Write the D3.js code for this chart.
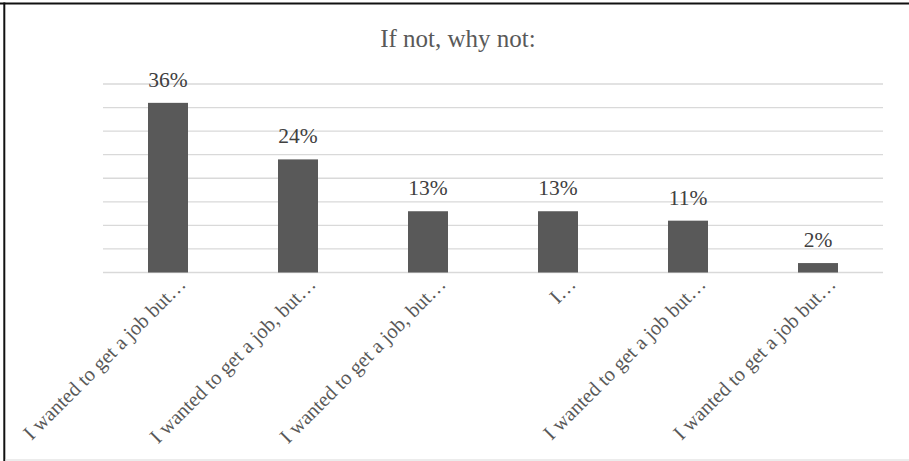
<!DOCTYPE html>
<html>
<head>
<meta charset="utf-8">
<script src="https://cdn.jsdelivr.net/npm/d3@7"></script>
<style>
  html, body { margin: 0; padding: 0; background: #fff; }
  svg { display: block; }
</style>
</head>
<body>
<svg id="chart" width="909" height="461"></svg>
<script>
const title = "If not, why not:";
const categories = [
  "I wanted to get a job but…",
  "I wanted to get a job, but…",
  "I wanted to get a job, but…",
  "I…",
  "I wanted to get a job but…",
  "I wanted to get a job but…"
];
const values = [36, 24, 13, 13, 11, 2];
const valueLabels = ["36%", "24%", "13%", "13%", "11%", "2%"];
const gridTicks = [0, 5, 10, 15, 20, 25, 30, 35, 40];

(function () {
const svg = d3.select("#chart");
const W = 909, H = 461;
const plotLeft = 103, plotRight = 883, plotTop = 84, plotBottom = 272.5;

svg.append("rect").attr("width", W).attr("height", H).attr("fill", "#fff");

// frame
svg.append("line").attr("x1", 0).attr("x2", W).attr("y1", 3.5).attr("y2", 3.5)
  .attr("stroke", "#111").attr("stroke-width", 2);
svg.append("line").attr("x1", 4.3).attr("x2", 4.3).attr("y1", 2.5).attr("y2", H)
  .attr("stroke", "#111").attr("stroke-width", 2);
svg.append("line").attr("x1", 5).attr("x2", W).attr("y1", 460).attr("y2", 460)
  .attr("stroke", "#d9d9d9").attr("stroke-width", 1);

const idx = categories.map((d, i) => i);
const x = d3.scaleBand().domain(idx).range([plotLeft, plotRight])
  .paddingInner(90 / 130).paddingOuter(45 / 130);
const y = d3.scaleLinear().domain([0, 40]).range([plotBottom, plotTop]);

// gridlines
svg.append("g").selectAll("line").data(gridTicks).join("line")
  .attr("x1", plotLeft).attr("x2", plotRight)
  .attr("y1", d => y(d)).attr("y2", d => y(d))
  .attr("stroke", "#d9d9d9").attr("stroke-width", 1.3);

// bars
svg.append("g").selectAll("rect").data(values).join("rect")
  .attr("x", (d, i) => x(i))
  .attr("width", x.bandwidth())
  .attr("y", d => y(d))
  .attr("height", d => y(0) - y(d))
  .attr("fill", "#595959");

// value labels
svg.append("g").selectAll("text").data(values).join("text")
  .attr("x", (d, i) => x(i) + x.bandwidth() / 2)
  .attr("y", d => y(d) - 16)
  .attr("text-anchor", "middle")
  .attr("font-family", "'Liberation Serif', 'Times New Roman', serif")
  .attr("font-size", 21.5)
  .attr("fill", "#404040")
  .text((d, i) => valueLabels[i]);

// category labels
svg.append("g").selectAll("text").data(categories).join("text")
  .attr("transform", (d, i) => `translate(${x(i) + x.bandwidth() / 2 + 19},${plotBottom + 13}) rotate(-45)`)
  .attr("text-anchor", "end")
  .attr("font-family", "'Liberation Serif', 'Times New Roman', serif")
  .attr("font-size", 20.5)
  .attr("fill", "#595959")
  .text(d => d);

// title
svg.append("text")
  .attr("x", 458).attr("y", 46.5)
  .attr("text-anchor", "middle")
  .attr("font-family", "'Liberation Serif', 'Times New Roman', serif")
  .attr("font-size", 25)
  .attr("fill", "#595959")
  .text(title);
})();
</script>
</body>
</html>
